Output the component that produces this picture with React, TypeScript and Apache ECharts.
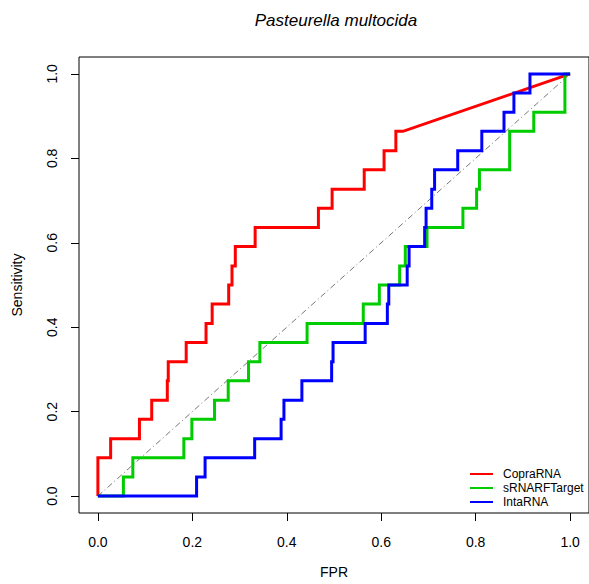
import React, { useEffect, useRef } from "react";
import * as echarts from "echarts";

const titleText = "Pasteurella multocida";
const xName = "FPR";
const yName = "Sensitivity";
const tickValues = [0, 0.2, 0.4, 0.6, 0.8, 1.0];
const seriesNames = ["CopraRNA", "sRNARFTarget", "IntaRNA"];
const seriesColors = ["#ff0000", "#00cd00", "#0000ff"];

const copraFPR = [0, 0, 0.027, 0.027, 0.088, 0.088, 0.114, 0.114, 0.147, 0.147, 0.149, 0.149, 0.187, 0.187, 0.229, 0.229, 0.242, 0.242, 0.277, 0.277, 0.284, 0.284, 0.291, 0.291, 0.333, 0.333, 0.467, 0.467, 0.496, 0.496, 0.564, 0.564, 0.606, 0.606, 0.631, 0.631, 0.646, 1];
const copraTPR = [0, 0.091, 0.091, 0.136, 0.136, 0.182, 0.182, 0.227, 0.227, 0.273, 0.273, 0.318, 0.318, 0.364, 0.364, 0.409, 0.409, 0.455, 0.455, 0.5, 0.5, 0.545, 0.545, 0.591, 0.591, 0.636, 0.636, 0.682, 0.682, 0.727, 0.727, 0.773, 0.773, 0.818, 0.818, 0.864, 0.864, 1];

const srnaFPR = [0, 0.054, 0.054, 0.074, 0.074, 0.182, 0.182, 0.199, 0.199, 0.247, 0.247, 0.276, 0.276, 0.319, 0.319, 0.343, 0.343, 0.443, 0.443, 0.562, 0.562, 0.596, 0.596, 0.639, 0.639, 0.651, 0.651, 0.697, 0.697, 0.773, 0.773, 0.802, 0.802, 0.808, 0.808, 0.872, 0.872, 0.923, 0.923, 0.989, 0.989, 1];
const srnaTPR = [0, 0, 0.045, 0.045, 0.091, 0.091, 0.136, 0.136, 0.182, 0.182, 0.227, 0.227, 0.273, 0.273, 0.318, 0.318, 0.364, 0.364, 0.409, 0.409, 0.455, 0.455, 0.5, 0.5, 0.545, 0.545, 0.591, 0.591, 0.636, 0.636, 0.682, 0.682, 0.727, 0.727, 0.773, 0.773, 0.864, 0.864, 0.909, 0.909, 1, 1];

const intaFPR = [0, 0.209, 0.209, 0.227, 0.227, 0.332, 0.332, 0.388, 0.388, 0.394, 0.394, 0.432, 0.432, 0.495, 0.495, 0.498, 0.498, 0.566, 0.566, 0.613, 0.613, 0.616, 0.616, 0.655, 0.655, 0.659, 0.659, 0.692, 0.692, 0.695, 0.695, 0.707, 0.707, 0.713, 0.713, 0.762, 0.762, 0.813, 0.813, 0.86, 0.86, 0.881, 0.881, 0.915, 0.915, 1];
const intaTPR = [0, 0, 0.045, 0.045, 0.091, 0.091, 0.136, 0.136, 0.182, 0.182, 0.227, 0.227, 0.273, 0.273, 0.318, 0.318, 0.364, 0.364, 0.409, 0.409, 0.455, 0.455, 0.5, 0.5, 0.545, 0.545, 0.591, 0.591, 0.636, 0.636, 0.682, 0.682, 0.727, 0.727, 0.773, 0.773, 0.818, 0.818, 0.864, 0.864, 0.909, 0.909, 0.955, 0.955, 1, 1];

const diagFPR = [0, 1];
const diagTPR = [0, 1];

const FONT = "'Liberation Sans', Arial, Helvetica, sans-serif";

function pairs(xs: number[], ys: number[]) {
  return xs.map((x, i) => [x, ys[i]]);
}

export default function App() {
  const ref = useRef<HTMLDivElement>(null);
  useEffect(() => {
    if (!ref.current) return;
    const chart = echarts.init(ref.current, null, { renderer: "svg" });
    const curves = [
      pairs(copraFPR, copraTPR),
      pairs(srnaFPR, srnaTPR),
      pairs(intaFPR, intaTPR),
    ];
    chart.setOption({
      animation: false,
      backgroundColor: "#ffffff",
      textStyle: { fontFamily: FONT },
      grid: {
        left: 79,
        top: 57,
        width: 513,
        height: 460,
        show: true,
        borderColor: "#000",
        borderWidth: 1,
        backgroundColor: "transparent",
      },
      graphic: [
        {
          type: "text",
          x: 336,
          y: 20,
          style: {
            text: titleText,
            fontSize: 17,
            fontStyle: "italic",
            fontFamily: FONT,
            fill: "#000",
            textAlign: "center",
            textVerticalAlign: "middle",
          },
        },
      ],
      xAxis: {
        type: "value",
        min: -0.04,
        max: 1.04,
        name: xName,
        nameLocation: "middle",
        nameGap: 52,
        nameTextStyle: { fontSize: 14, color: "#000", fontFamily: FONT },
        axisLine: { show: false, onZero: false },
        splitLine: { show: false },
        axisTick: {
          show: true,
          length: 8,
          customValues: tickValues,
          lineStyle: { color: "#000", width: 1 },
        },
        axisLabel: {
          customValues: tickValues,
          fontSize: 14,
          color: "#000",
          margin: 22,
          fontFamily: FONT,
          formatter: (v: number) => v.toFixed(1),
        },
      },
      yAxis: {
        type: "value",
        min: -0.04,
        max: 1.04,
        name: yName,
        nameLocation: "middle",
        nameGap: 55,
        nameTextStyle: { fontSize: 14, color: "#000", fontFamily: FONT },
        axisLine: { show: false, onZero: false },
        splitLine: { show: false },
        axisTick: {
          show: true,
          length: 8,
          customValues: tickValues,
          lineStyle: { color: "#000", width: 1 },
        },
        axisLabel: {
          customValues: tickValues,
          fontSize: 14,
          color: "#000",
          margin: 20,
          rotate: 90,
          fontFamily: FONT,
          formatter: (v: number) => v.toFixed(1),
        },
      },
      legend: {
        orient: "vertical",
        left: 470,
        top: 467,
        itemWidth: 23,
        itemHeight: 2,
        itemGap: 0,
        padding: 0,
        icon: "rect",
        data: seriesNames,
        textStyle: {
          fontSize: 12,
          color: "#000",
          fontFamily: FONT,
          lineHeight: 14,
          padding: [0, 0, 0, 5],
        },
      },
      series: [
        {
          name: "diag",
          type: "line",
          data: pairs(diagFPR, diagTPR),
          showSymbol: false,
          silent: true,
          lineStyle: { color: "#777", width: 1, type: [6, 3, 1, 3] },
          z: 1,
        },
        ...curves.map((d, i) => ({
          name: seriesNames[i],
          type: "line",
          data: d,
          showSymbol: false,
          color: seriesColors[i],
          lineStyle: { color: seriesColors[i], width: 3, join: "miter" },
          z: 2 + i,
        })),
      ],
    });
    return () => chart.dispose();
  }, []);
  return (
    <div
      ref={ref}
      style={{ position: "absolute", left: 0, top: 0, width: 589, height: 584 }}
    />
  );
}
